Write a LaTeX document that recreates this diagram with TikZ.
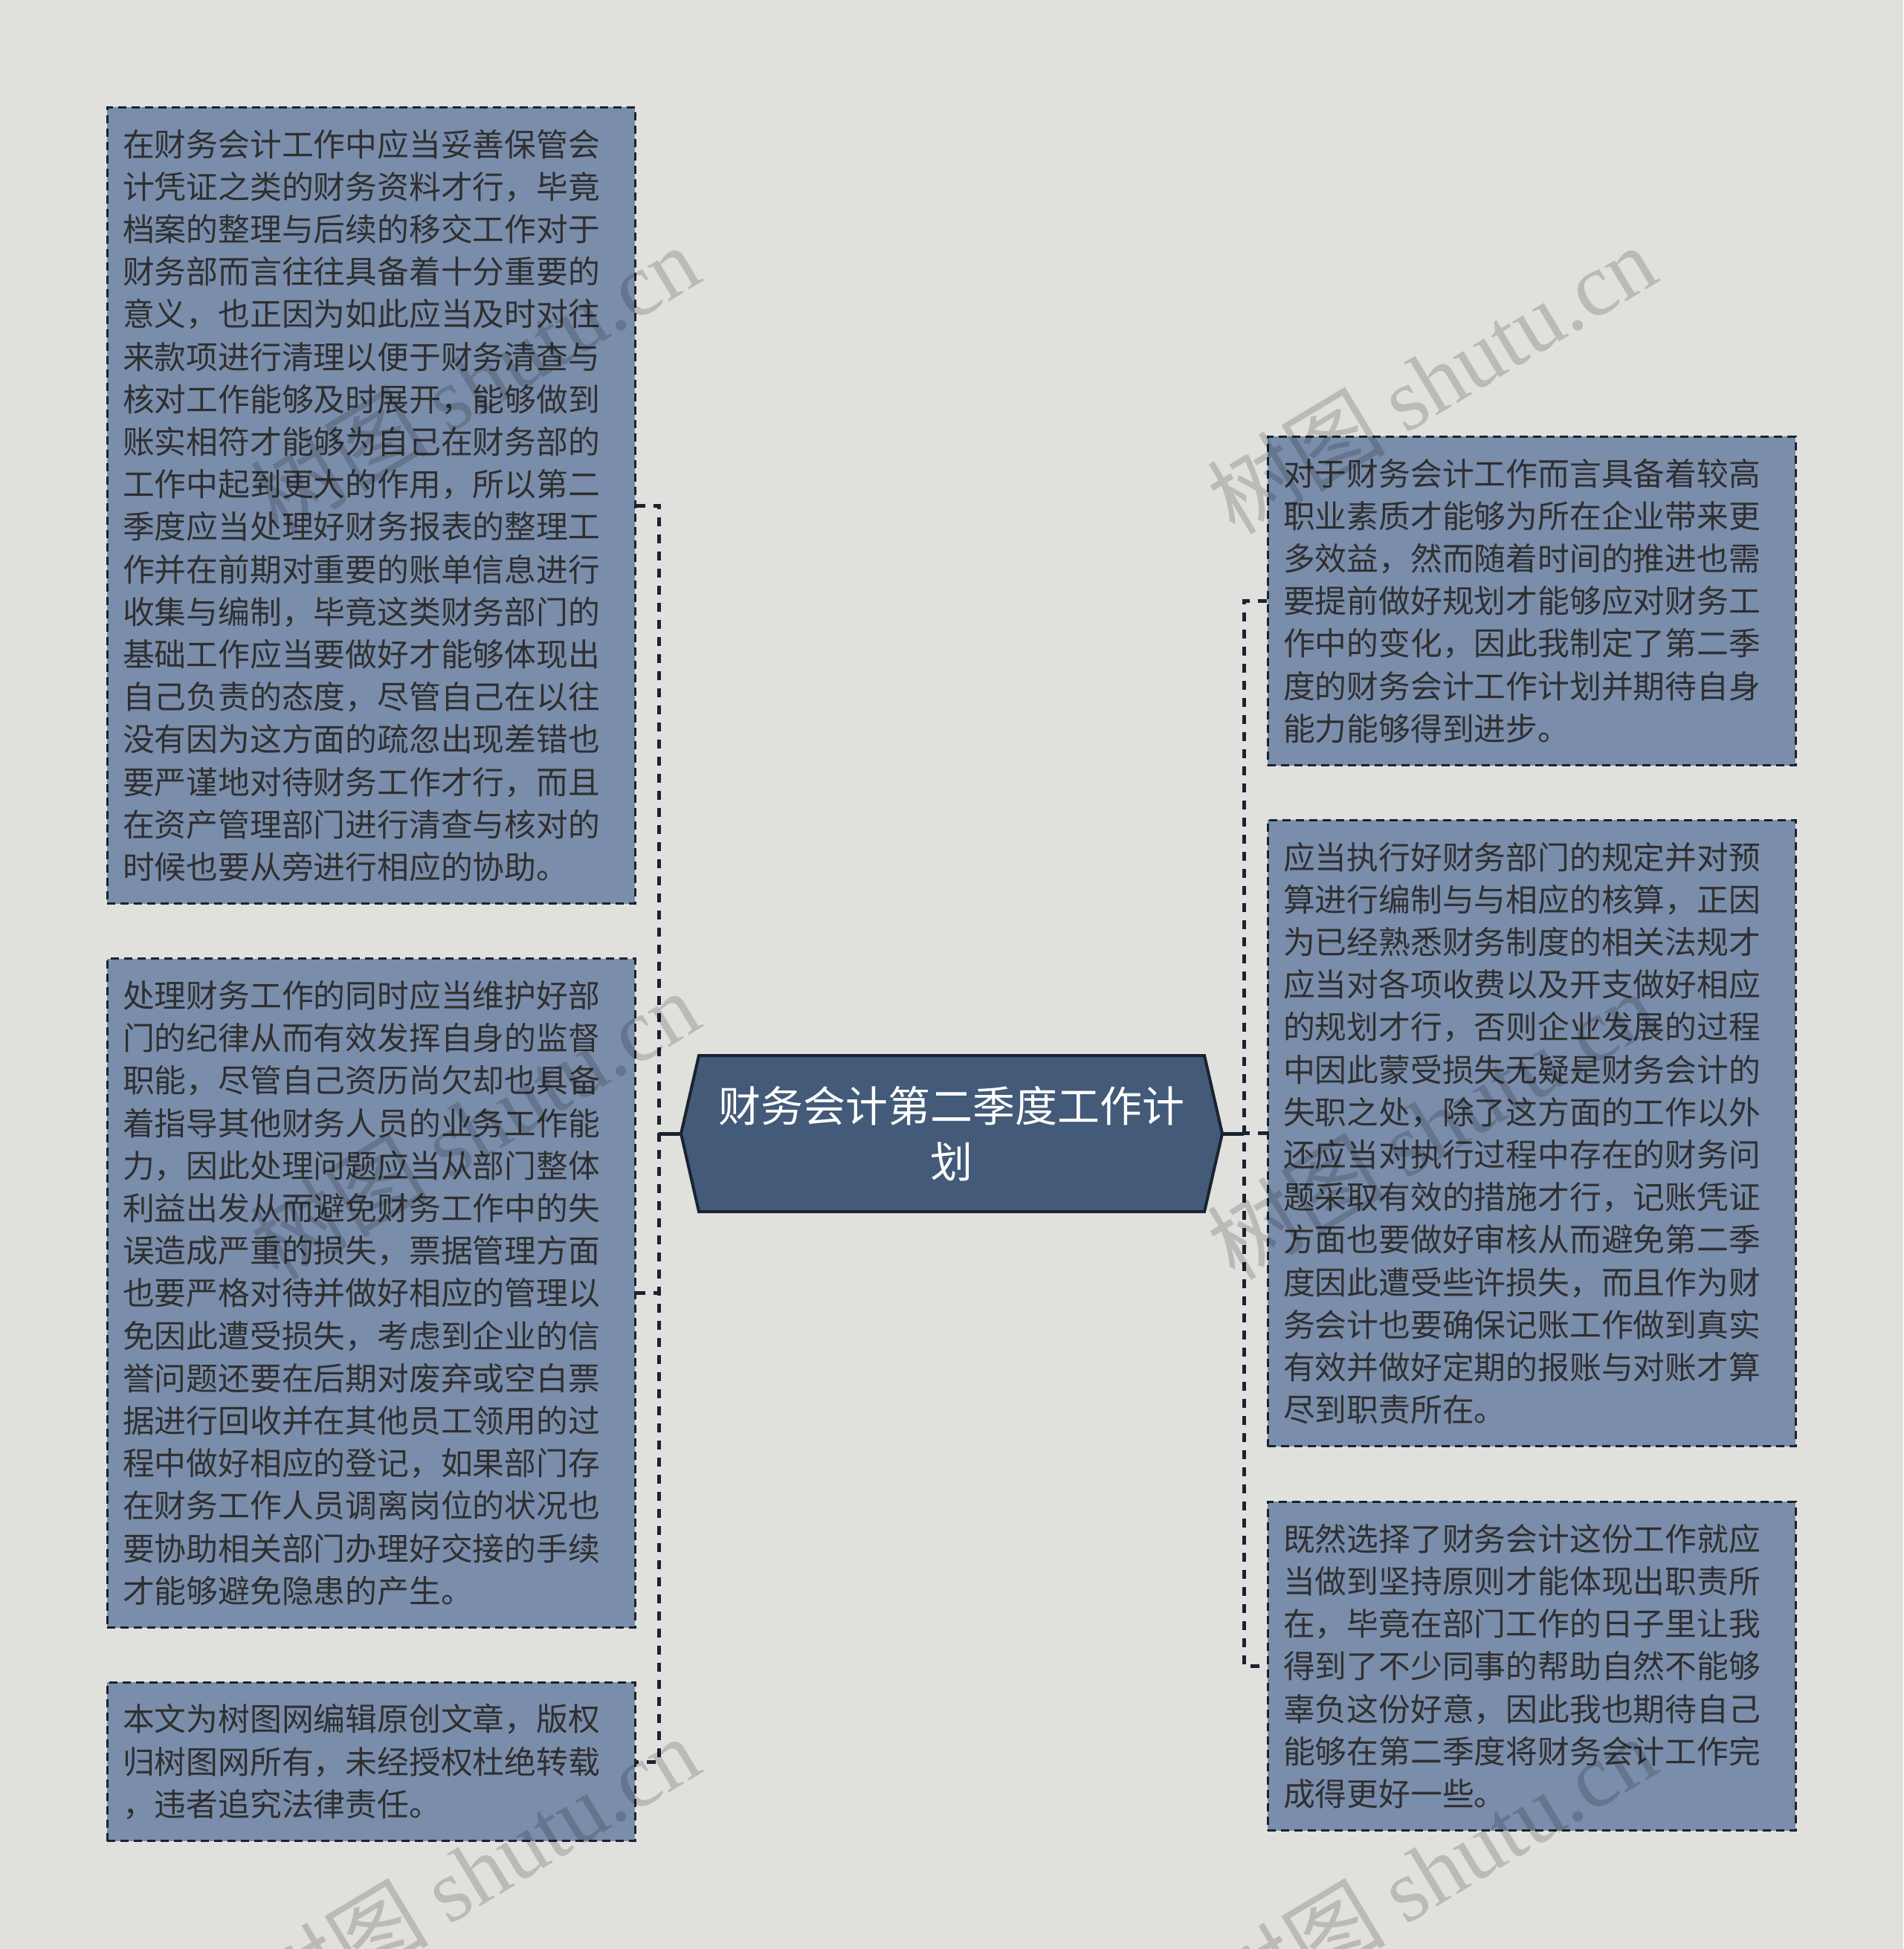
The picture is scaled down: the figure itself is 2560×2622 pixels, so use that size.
\documentclass[tikz,border=0pt]{standalone}
\usepackage{fontspec}
\setmainfont{Noto Sans CJK SC}
\newfontfamily\wmlatin{Liberation Serif}
\newfontfamily\wmcjk{Noto Sans CJK SC}
\definecolor{bgc}{HTML}{E0E1DC}
\definecolor{boxfill}{HTML}{7A8DAB}
\definecolor{ctrfill}{HTML}{435A78}
\definecolor{linec}{HTML}{1B2230}
\definecolor{txtc}{HTML}{2F2F2F}
\begin{document}
\begin{tikzpicture}[x=1pt,y=-1pt,
  leafbox/.style={draw=linec, line width=3pt, dash pattern=on 11pt off 7pt,
    fill=boxfill, text=txtc, text width=668pt, inner xsep=21pt, inner ysep=0pt,
    align=left, font=\fontsize{42.8pt}{57.2pt}\selectfont, minimum width=710pt},
  link/.style={draw=linec, line width=5pt, dash pattern=on 12pt off 11pt},
  solidlink/.style={draw=linec, line width=5pt},
  ctrshape/.style={draw=linec, line width=4pt, fill=ctrfill, line join=miter},
  ctrtext/.style={text=white, align=center, font=\fontsize{57pt}{75pt}\selectfont},
  wmark/.style={rotate=31, text=black, text opacity=0.17, font=\fontsize{120pt}{130pt}\selectfont}
]
\useasboundingbox (0,0) rectangle (2560,2622);
\fill[bgc] (0,0) rectangle (2560,2622);

% leaf boxes
\node[leafbox, minimum height=1071.6pt] (b1) at (499,680) {在财务会计工作中应当妥善保管会\\
计凭证之类的财务资料才行，毕竟\\
档案的整理与后续的移交工作对于\\
财务部而言往往具备着十分重要的\\
意义，也正因为如此应当及时对往\\
来款项进行清理以便于财务清查与\\
核对工作能够及时展开，能够做到\\
账实相符才能够为自己在财务部的\\
工作中起到更大的作用，所以第二\\
季度应当处理好财务报表的整理工\\
作并在前期对重要的账单信息进行\\
收集与编制，毕竟这类财务部门的\\
基础工作应当要做好才能够体现出\\
自己负责的态度，尽管自己在以往\\
没有因为这方面的疏忽出现差错也\\
要严谨地对待财务工作才行，而且\\
在资产管理部门进行清查与核对的\\
时候也要从旁进行相应的协助。};

\node[leafbox, minimum height=900pt] (b2) at (499,1739.5) {处理财务工作的同时应当维护好部\\
门的纪律从而有效发挥自身的监督\\
职能，尽管自己资历尚欠却也具备\\
着指导其他财务人员的业务工作能\\
力，因此处理问题应当从部门整体\\
利益出发从而避免财务工作中的失\\
误造成严重的损失，票据管理方面\\
也要严格对待并做好相应的管理以\\
免因此遭受损失，考虑到企业的信\\
誉问题还要在后期对废弃或空白票\\
据进行回收并在其他员工领用的过\\
程中做好相应的登记，如果部门存\\
在财务工作人员调离岗位的状况也\\
要协助相关部门办理好交接的手续\\
才能够避免隐患的产生。};

\node[leafbox, minimum height=213.6pt] (b3) at (499,2370) {本文为树图网编辑原创文章，版权\\
归树图网所有，未经授权杜绝转载\\
，违者追究法律责任。};

\node[leafbox, minimum height=442.4pt] (r1) at (2060,808.5) {对于财务会计工作而言具备着较高\\
职业素质才能够为所在企业带来更\\
多效益，然而随着时间的推进也需\\
要提前做好规划才能够应对财务工\\
作中的变化，因此我制定了第二季\\
度的财务会计工作计划并期待自身\\
能力能够得到进步。};

\node[leafbox, minimum height=842.8pt] (r2) at (2060,1524.5) {应当执行好财务部门的规定并对预\\
算进行编制与与相应的核算，正因\\
为已经熟悉财务制度的相关法规才\\
应当对各项收费以及开支做好相应\\
的规划才行，否则企业发展的过程\\
中因此蒙受损失无疑是财务会计的\\
失职之处，除了这方面的工作以外\\
还应当对执行过程中存在的财务问\\
题采取有效的措施才行，记账凭证\\
方面也要做好审核从而避免第二季\\
度因此遭受些许损失，而且作为财\\
务会计也要确保记账工作做到真实\\
有效并做好定期的报账与对账才算\\
尽到职责所在。};

\node[leafbox, minimum height=442.4pt] (r3) at (2060,2241.5) {既然选择了财务会计这份工作就应\\
当做到坚持原则才能体现出职责所\\
在，毕竟在部门工作的日子里让我\\
得到了不少同事的帮助自然不能够\\
辜负这份好意，因此我也期待自己\\
能够在第二季度将财务会计工作完\\
成得更好一些。};

% centre node
\coordinate (cL) at (916,1525);
\coordinate (cR) at (1644,1525);
\draw[ctrshape] (940,1420) -- (1620,1420) -- (cR) -- (1620,1630) -- (940,1630) -- (cL) -- cycle;
\node[ctrtext] (ctr) at (1280,1525) {财务会计第二季度工作计\\划};

% connectors
\coordinate (lt) at (886,1525);
\coordinate (rt) at (1673,1525);
\draw[link] (b1.east) -- (b1.east -| lt) -- (b3.east -| lt) -- (b3.east);
\draw[link] (b2.east) -- (b2.east -| lt);
\draw[solidlink] (cL) -- (lt);
\draw[link] (r1.west) -- (r1.west -| rt) -- (r3.west -| rt) -- (r3.west);
\draw[link] (r2.west) -- (r2.west -| rt);
\draw[solidlink] (cR) -- (rt);

% watermarks
\foreach \wx/\wy [count=\i] in {638/510, 1925/510, 638/1513, 1925/1513, 638/2516, 1925/2516}
  \node[wmark] (wm\i) at (\wx,\wy) {{\wmcjk 树图} {\wmlatin shutu.cn}};
\end{tikzpicture}
\end{document}
